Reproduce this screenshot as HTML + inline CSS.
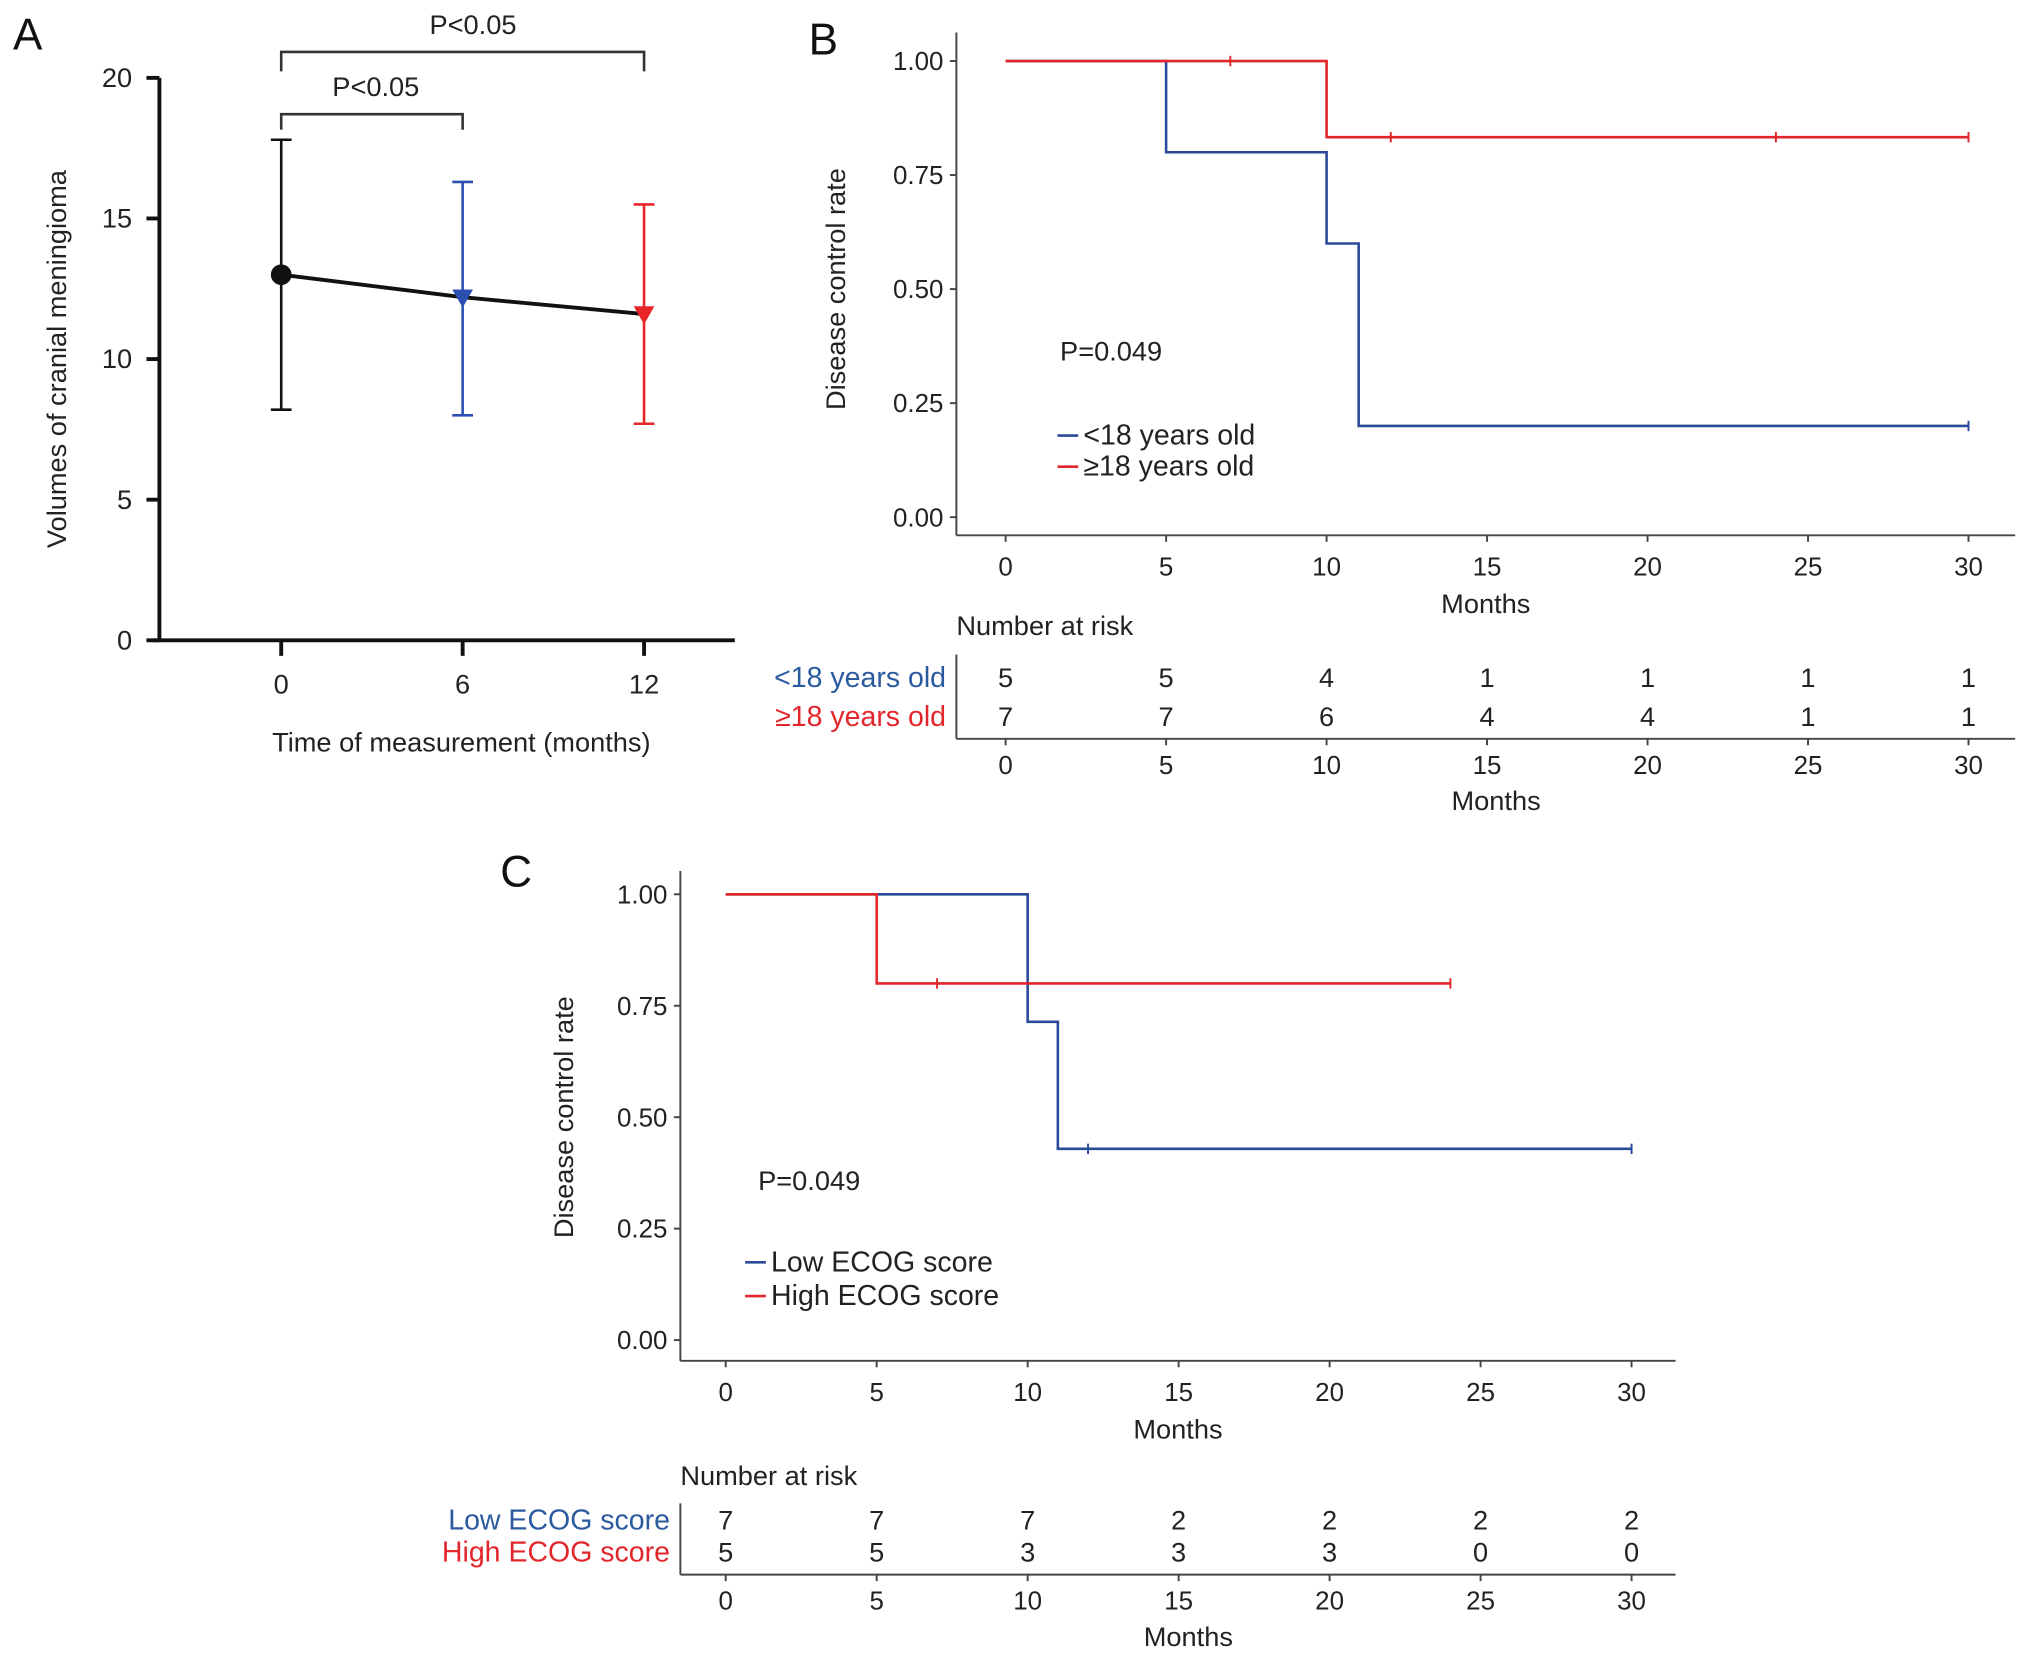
<!DOCTYPE html>
<html><head><meta charset="utf-8"><style>
html,body{margin:0;padding:0;background:#fff}
svg{display:block}
text{font-family:"Liberation Sans",Arial,sans-serif}
</style></head><body>
<svg id="fig" width="2032" height="1659" viewBox="0 0 1568 1280" xmlns="http://www.w3.org/2000/svg"></svg>
<script>
// Panel A data
const aCats=[0,6,12];
const aMeans=[13,12.2,11.6];
const aUpper=[17.8,16.3,15.5];
const aLower=[8.2,8.0,7.7];
const aColors=['#111','#2a4fb0','#e8262a'];
const aYTicks=[0,5,10,15,20];
// Panel B data
const bTicks=[0,5,10,15,20,25,30];
const bYTicks=[0,0.25,0.5,0.75,1];
const bYLabels=['0.00','0.25','0.50','0.75','1.00'];
const bBlueT=[0,5,10,11,30];
const bBlueS=[1,0.8,0.6,0.2,0.2];
const bBlueCens=[30];
const bRedT=[0,10,30];
const bRedS=[1,0.833,0.833];
const bRedCens=[7,12,24,30];
const bRiskBlue=[5,5,4,1,1,1,1];
const bRiskRed=[7,7,6,4,4,1,1];
// Panel C data
const cBlueT=[0,10,11,30];
const cBlueS=[1,0.714,0.429,0.429];
const cBlueCens=[12,30];
const cRedT=[0,5,24];
const cRedS=[1,0.8,0.8];
const cRedCens=[7,24];
const cRiskBlue=[7,7,7,2,2,2,2];
const cRiskRed=[5,5,3,3,3,0,0];

const NS='http://www.w3.org/2000/svg';
const svg=document.getElementById('fig');
function el(tag,attrs,parent,txt){const e=document.createElementNS(NS,tag);for(const k in attrs)e.setAttribute(k,attrs[k]);if(txt!==undefined)e.textContent=txt;(parent||svg).appendChild(e);return e;}
function line(x1,y1,x2,y2,stroke,w,name,p){const e=el('line',{x1,y1,x2,y2,stroke,'stroke-width':w},p);

return e;}
function text(x,y,s,size,anchor,fill,name,p,extra){const e=el('text',Object.assign({x,y,'font-size':size,'text-anchor':anchor||'start',style:'fill:'+(fill||'#222')},extra||{}),p,s);

return e;}
function group(name){const g=el('g',{});

return g;}

// ===== Panel A =====
(function(){
const g=group('panel-a');
const xA=v=>217+v*(140/6), yA=v=>494-v*(434/20);
text(10,38,'A',34,'start','#111','panel-label-a',g);
line(123,yA(20),123,494,'#111',3,'y-axis',g);
line(118,494,567,494,'#111',3,'x-axis',g);
aYTicks.forEach(v=>{line(113,yA(v),123,yA(v),'#111',3,'y-tick',g);text(102,yA(v)+7,String(v),21,'end','#222','y-tick-label',g);});
aCats.forEach(v=>{line(xA(v),494,xA(v),506,'#111',3,'x-tick',g);text(xA(v),535,String(v),21,'middle','#222','x-tick-label',g);});
text(356,580,'Time of measurement (months)',21,'middle','#222','x-axis-title',g);
text(0,0,'Volumes of cranial meningioma',21,'middle','#222','y-axis-title',g,{transform:'translate(51,277) rotate(-90)'});
const b1=el('path',{d:`M${xA(0)},55 V40 H${xA(12)} V55`,fill:'none',stroke:'#333','stroke-width':2},g);


text(365,26,'P<0.05',21,'middle','#222','p-value-0-12',g);
const b2=el('path',{d:`M${xA(0)},100 V88 H${xA(6)} V100`,fill:'none',stroke:'#333','stroke-width':2},g);


text(290,74,'P<0.05',21,'middle','#222','p-value-0-6',g);
aCats.forEach((c,i)=>{const x=xA(c),col=aColors[i];
line(x,yA(aUpper[i]),x,yA(aLower[i]),col,2,'error-bar',g);
line(x-8,yA(aUpper[i]),x+8,yA(aUpper[i]),col,2,'error-cap-top',g);
line(x-8,yA(aLower[i]),x+8,yA(aLower[i]),col,2,'error-cap-bottom',g);});
const pl=el('polyline',{points:aCats.map((c,i)=>xA(c)+','+yA(aMeans[i])).join(' '),fill:'none',stroke:'#111','stroke-width':3},g);


aCats.forEach((c,i)=>{const x=xA(c),y=yA(aMeans[i]);let m;
if(i===0)m=el('circle',{cx:x,cy:y,r:8,fill:aColors[i]},g);
else m=el('path',{d:`M${x-8},${y-6} L${x+8},${y-6} L${x},${y+8} Z`,fill:aColors[i]},g);

});
})();

// ===== KM panel builder =====
function km(o){
const g=group(o.name);
const xs=v=>o.x0+v*(o.x30-o.x0)/30, ys=v=>o.yBase-v*(o.yBase-o.yTop);
text(o.letterX,o.letterY,o.letter,34,'start','#111','panel-label-'+o.letter.toLowerCase(),g);
line(o.axX,o.axTop,o.axX,o.axY,'#444',1.5,'y-axis',g);
line(o.axX,o.axY,o.axR,o.axY,'#444',1.5,'x-axis',g);
bYTicks.forEach((v,i)=>{line(o.axX-5,ys(v),o.axX,ys(v),'#444',1.5,'y-tick',g);text(o.axX-10,ys(v)+7,bYLabels[i],20,'end','#222','y-tick-label',g);});
bTicks.forEach(v=>{line(xs(v),o.axY,xs(v),o.axY+5,'#444',1.5,'x-tick',g);text(xs(v),o.axY+31,String(v),20,'middle','#222','x-tick-label',g);});
text((o.axX+o.axR)/2,o.axY+60,'Months',21,'middle','#222','x-axis-title',g);
text(0,0,'Disease control rate',21,'middle','#222','y-axis-title',g,{transform:`translate(${o.ytX},${(ys(0)+ys(1))/2}) rotate(-90)`});
function curve(T,S,cens,col,name){let d=`M${xs(T[0])},${ys(S[0])}`;
for(let i=1;i<T.length;i++){d+=` H${xs(T[i])} V${ys(S[i])}`;}
const p=el('path',{d,fill:'none',stroke:col,'stroke-width':2},g);


cens.forEach(c=>{let s=S[0];for(let i=0;i<T.length;i++)if(T[i]<=c)s=S[i];
line(xs(c),ys(s)-4,xs(c),ys(s)+4,col,1.5,'censor-mark',g);});}
curve(o.blueT,o.blueS,o.blueC,'#2b4a9a','curve-'+o.blueName);
curve(o.redT,o.redS,o.redC,'#e2262b','curve-'+o.redName);
text(o.pX,o.pY,'P=0.049',21,'start','#222','p-value',g);
line(o.lgX,o.lgY1-7,o.lgX+16,o.lgY1-7,'#2b4a9a',2,'legend-swatch-blue',g);
text(o.lgX+20,o.lgY1,o.blueLabel,22,'start','#222','legend-entry-blue',g);
line(o.lgX,o.lgY2-7,o.lgX+16,o.lgY2-7,'#e2262b',2,'legend-swatch-red',g);
text(o.lgX+20,o.lgY2,o.redLabel,22,'start','#222','legend-entry-red',g);
text(o.axX,o.nrY,'Number at risk',21,'start','#222','risk-table-title',g);
line(o.axX,o.rtTop,o.axX,o.rtLine,'#444',1.5,'risk-table-y-axis',g);
line(o.axX,o.rtLine,o.axR,o.rtLine,'#444',1.5,'risk-table-x-axis',g);
text(o.axX-8,o.r1Y,o.blueLabel,22,'end','#2b5a9e','risk-row-label-blue',g);
text(o.axX-8,o.r2Y,o.redLabel,22,'end','#e2262b','risk-row-label-red',g);
bTicks.forEach((v,i)=>{text(xs(v),o.r1Y,String(o.riskB[i]),21,'middle','#222','risk-count-blue',g);
text(xs(v),o.r2Y,String(o.riskR[i]),21,'middle','#222','risk-count-red',g);
line(xs(v),o.rtLine,xs(v),o.rtLine+5,'#444',1.5,'risk-x-tick',g);
text(xs(v),o.rtLine+27,String(v),20,'middle','#222','risk-x-tick-label',g);});
text((o.axX+o.axR)/2+8,o.rtLine+55,'Months',21,'middle','#222','risk-x-axis-title',g);
}
km({name:'panel-b',letter:'B',letterX:624,letterY:42,x0:776,x30:1519,yTop:47,yBase:399,axX:738,axTop:25,axY:413,axR:1555,ytX:652,
blueT:bBlueT,blueS:bBlueS,blueC:bBlueCens,redT:bRedT,redS:bRedS,redC:bRedCens,blueName:'under-18',redName:'over-18',
blueLabel:'<18 years old',redLabel:'≥18 years old',pX:818,pY:278,lgX:816,lgY1:343,lgY2:367,
nrY:490,rtTop:505,rtLine:570,r1Y:530,r2Y:560,riskB:bRiskBlue,riskR:bRiskRed});
km({name:'panel-c',letter:'C',letterX:386,letterY:684,x0:560,x30:1259,yTop:690,yBase:1034,axX:525,axTop:672,axY:1050,axR:1293,ytX:442,
blueT:cBlueT,blueS:cBlueS,blueC:cBlueCens,redT:cRedT,redS:cRedS,redC:cRedCens,blueName:'low-ecog',redName:'high-ecog',
blueLabel:'Low ECOG score',redLabel:'High ECOG score',pX:585,pY:918,lgX:575,lgY1:981,lgY2:1007,
nrY:1146,rtTop:1160,rtLine:1215,r1Y:1180,r2Y:1205,riskB:cRiskBlue,riskR:cRiskRed});
</script>
</body></html>
